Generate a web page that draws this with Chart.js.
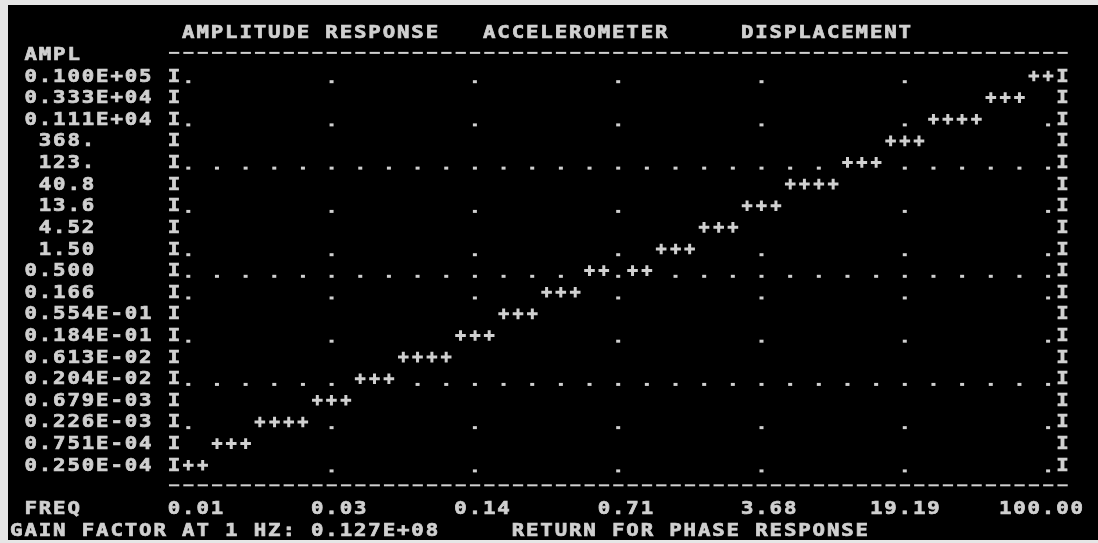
<!DOCTYPE html>
<html>
<head>
<meta charset="utf-8">
<title>Amplitude response - accelerometer - displacement</title>
<script src="https://cdn.jsdelivr.net/npm/chart.js@4.4.1/dist/chart.umd.min.js"></script>
<style>
  html, body { margin: 0; padding: 0; background: #000; }
  canvas { display: block; }
</style>
</head>
<body>
<canvas id="plot" width="1098" height="543"></canvas>
<script>
// amplitude rows, top to bottom, as printed down the left side
const amplRows = [1e4, 3330, 1110, 368, 123, 40.8, 13.6, 4.52, 1.50, 0.500, 0.166,
  0.0554, 0.0184, 0.00613, 0.00204, 0.000679, 0.000226, 0.0000751, 0.0000250];
const amplLabels = ['0.100E+05', '0.333E+04', '0.111E+04', ' 368.', ' 123.', ' 40.8', ' 13.6',
  ' 4.52', ' 1.50', '0.500', '0.166', '0.554E-01', '0.184E-01', '0.613E-02', '0.204E-02',
  '0.679E-03', '0.226E-03', '0.751E-04', '0.250E-04'];

// frequency axis (Hz)
const freqTicks = [0.005, 0.02604, 0.1357, 0.7070, 3.684, 19.19, 100];
const freqLabels = ['0.01', '0.03', '0.14', '0.71', '3.68', '19.19', '100.00'];

// frequencies that got a '+' in each amplitude row (same order as amplRows)
const respFreq = [
  [84.8, 100],
  [51.7, 61.0, 71.9],
  [26.7, 31.5, 37.1, 43.8],
  [16.3, 19.2, 22.6],
  [9.92, 11.7, 13.8],
  [5.13, 6.04, 7.13, 8.41],
  [3.12, 3.68, 4.35],
  [1.90, 2.25, 2.65],
  [1.16, 1.37, 1.61],
  [0.508, 0.599, 0.834, 0.984],
  [0.310, 0.365, 0.431],
  [0.189, 0.223, 0.263],
  [0.115, 0.136, 0.160],
  [0.0595, 0.0701, 0.0827, 0.0975],
  [0.0362, 0.0427, 0.0504],
  [0.0221, 0.0260, 0.0307],
  [0.0114, 0.0135, 0.0159, 0.0187],
  [0.00696, 0.00820, 0.00968],
  [0.00500, 0.00590]
];

// rows that carry the long dotted line
const dottedRows = [123, 0.500, 0.00204];

const FG = '#d0d0d0';
const FONT = 'bold 18px "DejaVu Sans Mono"';

// one character per text cell, stretched and thickened like the old screen font
function put(ctx, str, col, cy, colX) {
  ctx.save();
  ctx.fillStyle = FG;
  ctx.strokeStyle = FG;
  ctx.lineWidth = 0.7;
  ctx.font = FONT;
  ctx.textAlign = 'center';
  ctx.textBaseline = 'alphabetic';
  for (let k = 0; k < str.length; k++) {
    if (str[k] === ' ') continue;
    ctx.save();
    ctx.translate(colX(col + k), cy + 6.5);
    ctx.scale(1.15, 1);
    ctx.fillText(str[k], 0, 0);
    ctx.strokeText(str[k], 0, 0);
    ctx.restore();
  }
  ctx.restore();
}

const screen = {
  id: 'screen',
  beforeDraw(chart) {
    const ctx = chart.ctx;
    ctx.save();
    ctx.fillStyle = '#e6e6e6';
    ctx.fillRect(0, 0, chart.width, chart.height);
    ctx.fillStyle = '#000';
    ctx.fillRect(8, 5, chart.width - 8, chart.height - 8);
    ctx.restore();
  },
  beforeDatasetsDraw(chart) {
    const ctx = chart.ctx;
    const x = chart.scales.x, y = chart.scales.y;
    const x0 = x.getPixelForValue(freqTicks[0]);
    const cw = (x.getPixelForValue(freqTicks[freqTicks.length - 1]) - x0) / 60;
    const colX = c => x0 + (c - 12) * cw;
    const y0 = y.getPixelForValue(amplRows[0]);
    const rh = (y.getPixelForValue(amplRows[amplRows.length - 1]) - y0) / (amplRows.length - 1);
    const rowY = r => y0 + (r - 3) * rh - 1;   // text centre of screen row r

    const pts = chart.getDatasetMeta(0).data;
    const taken = (px, py) => pts.some(p => Math.abs(p.x - px) < cw / 2 && Math.abs(p.y - py) < rh / 2);
    const dot = (px, py) => { if (!taken(px, py)) ctx.fillRect(px - 2, py + 4.2, 4, 3); };
    const dashes = cy => { for (let c = 11; c <= 73; c++) ctx.fillRect(colX(c) - 5, cy - 1.5, 10.3, 2); };

    ctx.save();
    ctx.fillStyle = FG;

    // header
    put(ctx, 'AMPLITUDE RESPONSE', 12, rowY(1), colX);
    put(ctx, 'ACCELEROMETER', 33, rowY(1), colX);
    put(ctx, 'DISPLACEMENT', 51, rowY(1), colX);
    put(ctx, 'AMPL', 1, rowY(2), colX);
    dashes(rowY(2));

    // amplitude rows with frame and grid dots
    amplRows.forEach((a, i) => {
      const py = y.getPixelForValue(a);
      put(ctx, amplLabels[i], 1, py - 1, colX);
      put(ctx, 'I', 11, py - 1, colX);
      put(ctx, 'I', 73, py - 1, colX);
      if (dottedRows.includes(a)) {
        for (let c = 12; c <= 72; c += 2) dot(colX(c), py);
      } else if (i % 2 === 0) {
        freqTicks.forEach(t => dot(x.getPixelForValue(t), py));
      }
    });

    // frequency axis
    dashes(rowY(22));
    put(ctx, 'FREQ', 1, rowY(23), colX);
    freqTicks.forEach((t, k) => {
      const tc = Math.round((x.getPixelForValue(t) - x0) / cw) + 12;
      put(ctx, freqLabels[k], tc + 3 - freqLabels[k].length, rowY(23), colX);
    });

    // status line
    put(ctx, 'GAIN FACTOR AT 1 HZ: 0.127E+08', 0, rowY(24), colX);
    put(ctx, 'RETURN FOR PHASE RESPONSE', 35, rowY(24), colX);
    ctx.restore();
  }
};

const points = respFreq.flatMap((fs, i) => fs.map(f => ({ x: f, y: amplRows[i] })));

new Chart(document.getElementById('plot'), {
  type: 'scatter',
  data: {
    datasets: [{
      data: points,
      showLine: false,
      pointStyle: 'cross',
      pointRadius: 5.3,
      pointBorderWidth: 3,
      pointBorderColor: FG,
      pointBackgroundColor: FG,
      clip: false
    }]
  },
  options: {
    responsive: false,
    animation: false,
    events: [],
    layout: { padding: { left: 188.3, right: 49.9, top: 76, bottom: 77.8 } },
    plugins: { legend: { display: false }, tooltip: { enabled: false } },
    scales: {
      x: { type: 'logarithmic', min: 0.005, max: 100, display: false },
      y: { type: 'logarithmic', min: 0.000025, max: 10000, display: false }
    }
  },
  plugins: [screen]
});
</script>
</body>
</html>
